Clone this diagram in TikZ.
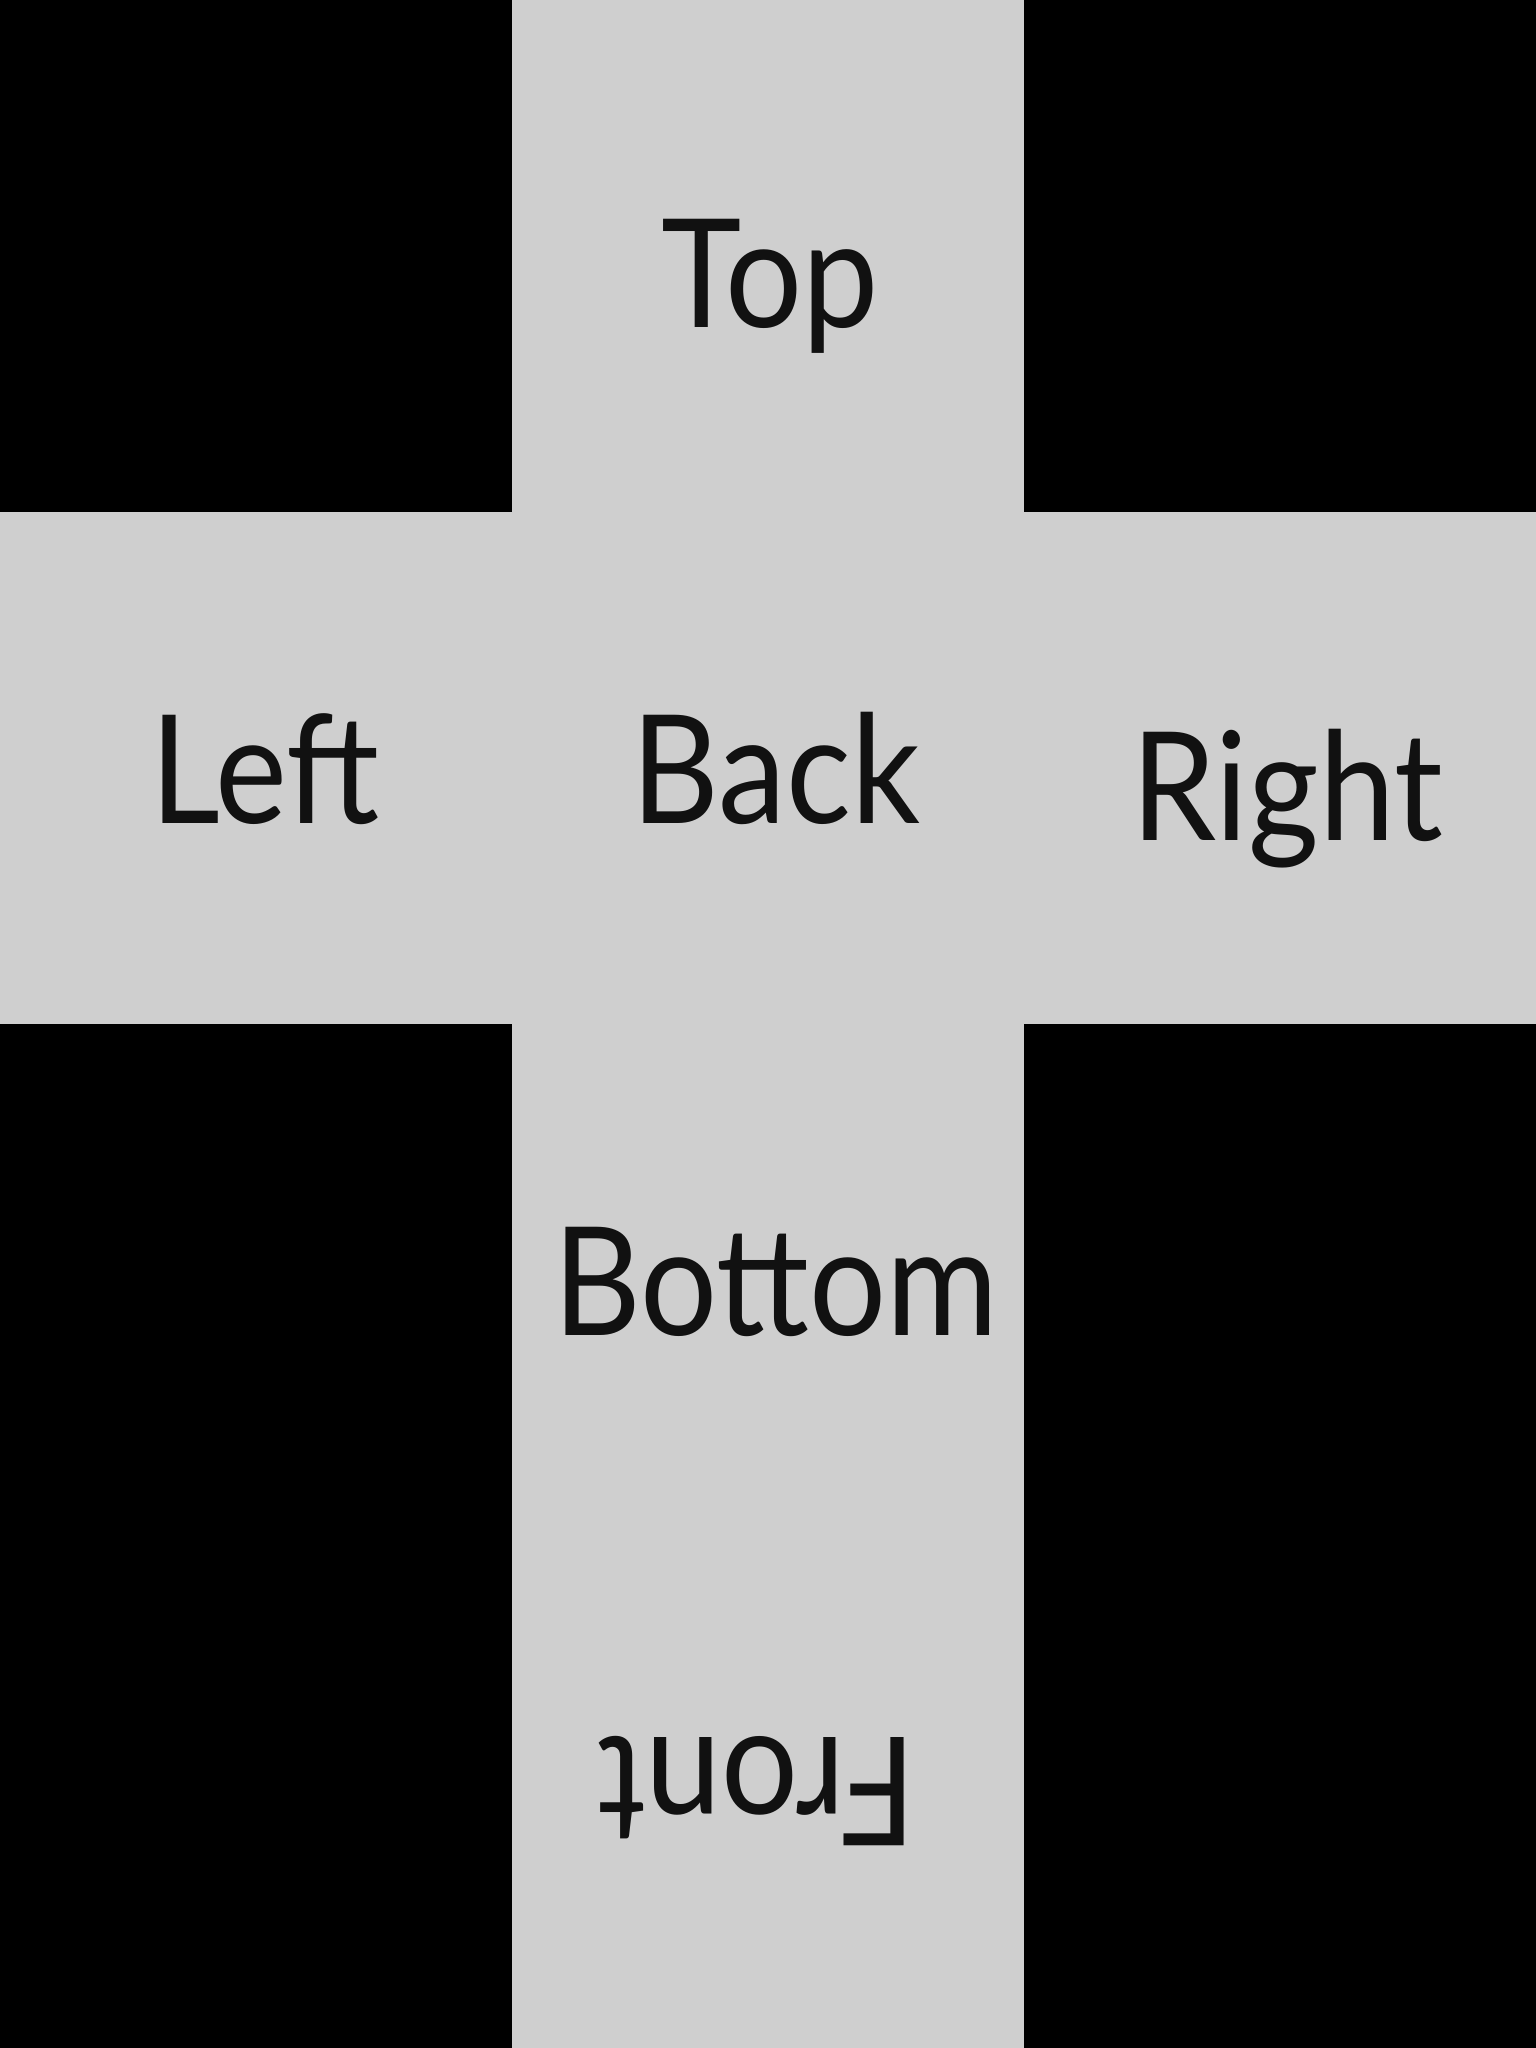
\documentclass[tikz,border=0pt]{standalone}
\usepackage{fontspec}
\setmainfont{Lato}[FakeStretch=0.9]
\usepackage{xcolor}
\usepackage{tikz}
\usetikzlibrary{positioning}

\definecolor{facegray}{RGB}{207,207,207}
\definecolor{inkblack}{RGB}{17,17,17}
\newcommand{\facefont}{\fontsize{43pt}{50pt}\selectfont}

\begin{document}
\begin{tikzpicture}[
    face/.style={fill=facegray, draw=none, minimum size=5.12cm, inner sep=0pt, outer sep=0pt},
    facelabel/.style={font=\facefont, text=inkblack, anchor=base, inner sep=0pt}
]

% black backdrop, 3 x 4 cells of 5.12cm
\fill[black] (0,0) rectangle (15.36,-20.48);
\useasboundingbox (0,0) rectangle (15.36,-20.48);

% faces of the unfolded cube
\node[face] (top) at (7.68, -2.56) {};
\node[face] (left) at (2.56, -7.68) {};
\node[face] (back) at (7.68, -7.68) {};
\node[face] (right) at (12.8, -7.68) {};
\node[face] (bottom) at (7.68, -12.8) {};
\node[face] (front) at (7.68, -17.92) {};

% labels
\node[facelabel] (top-txt) at ([xshift=0.02cm, yshift=-0.71cm]top.center) {Top};
\node[facelabel] (left-txt) at ([xshift=0.09cm, yshift=-0.55cm]left.center) {Left};
\node[facelabel] (back-txt) at ([xshift=0.08cm, yshift=-0.55cm]back.center) {Back};
\node[facelabel] (right-txt) at ([xshift=0.07cm, yshift=-0.72cm]right.center) {Right};
\node[facelabel] (bottom-txt) at ([xshift=0.08cm, yshift=-0.55cm]bottom.center) {Bottom};
\node[facelabel, rotate=180] (front-txt) at ([xshift=-0.11cm, yshift=0.55cm]front.center) {Front};
\end{tikzpicture}
\end{document}
